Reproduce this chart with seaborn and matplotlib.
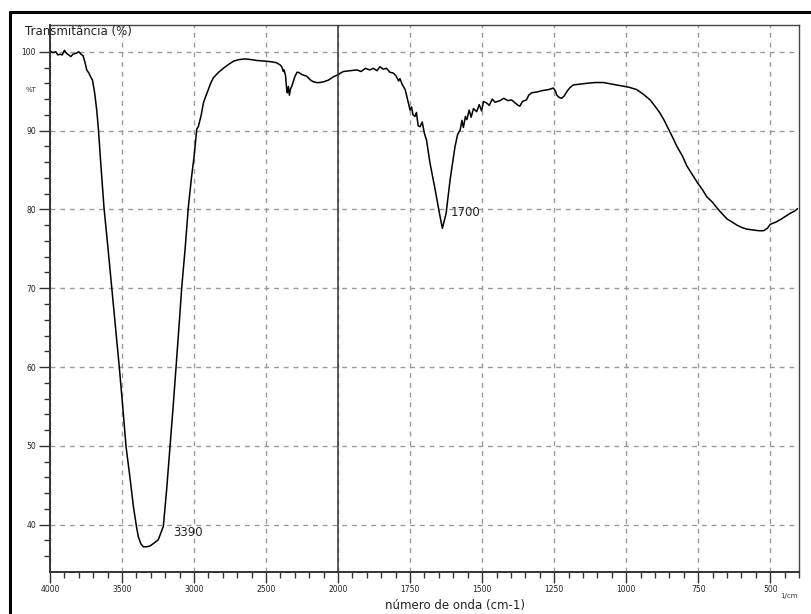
import numpy as np
import pandas as pd
import matplotlib
matplotlib.use("Agg")
import matplotlib.pyplot as plt
import seaborn as sns
from matplotlib.lines import Line2D
from matplotlib.ticker import FixedLocator, NullFormatter

# ---- data ----
wavenumber = [
    4000, 3980, 3960, 3945, 3930, 3915, 3900, 3885, 3870, 3855, 3840, 3820, 3800,
    3785, 3770, 3755, 3745, 3730, 3720, 3705, 3690, 3675, 3664, 3645, 3625, 3598,
    3572, 3545, 3519, 3495, 3472, 3445, 3421, 3400, 3387, 3370, 3352, 3330, 3306,
    3275, 3248, 3213, 3190, 3167, 3145, 3125, 3105, 3085, 3062, 3040, 3018, 2998,
    2981, 2970, 2950, 2935, 2920, 2901, 2885, 2866, 2830, 2797, 2760, 2727, 2690,
    2646, 2600, 2565, 2495, 2450, 2426, 2400, 2391, 2380, 2375, 2365, 2361, 2355,
    2352, 2345, 2338, 2330, 2322, 2310, 2299, 2285, 2276, 2250, 2218, 2190, 2172,
    2150, 2125, 2100, 2068, 2035, 2000,
    1982, 1958, 1935, 1920, 1905, 1890, 1877, 1865, 1855, 1843, 1832, 1820, 1808,
    1798, 1790, 1785, 1778, 1767, 1758, 1750, 1745, 1740, 1733, 1728, 1722, 1715,
    1708, 1700, 1693, 1681, 1663, 1646, 1638, 1625, 1611, 1594, 1585, 1576, 1570,
    1565, 1558, 1553, 1545, 1538, 1530, 1519, 1510, 1502, 1495, 1484, 1475, 1465,
    1455, 1438, 1425, 1410, 1398, 1385, 1375, 1369, 1360, 1346, 1338, 1328, 1310,
    1288, 1270, 1253, 1245, 1241, 1232, 1224, 1215, 1205, 1194, 1183, 1160, 1137,
    1110, 1079, 1050, 1035, 1021, 990, 963, 940, 917, 900, 882, 868, 853, 838, 824,
    805, 789, 770, 751, 735, 720, 700, 685, 668, 650, 632, 615, 598, 581, 560, 540,
    523, 510, 500, 480, 465, 448, 431, 415, 405,
]
transmittance = [
    100.1, 99.9, 100.0, 99.6, 99.7, 99.6, 100.2, 99.8, 99.6, 99.4, 99.7, 99.8, 100.0,
    99.7, 99.5, 98.5, 97.7, 97.3, 96.9, 96.4, 94.8, 92.5, 90.2, 85.2, 80.2, 75.2,
    70.2, 65.1, 60.0, 55.0, 49.9, 46.0, 42.3, 39.8, 38.5, 37.6, 37.2, 37.2, 37.3,
    37.7, 38.1, 39.8, 44.5, 49.9, 55.0, 60.0, 65.0, 70.2, 75.0, 80.2, 84.0, 87.0,
    90.2, 90.5, 92.0, 93.5, 94.3, 95.2, 96.0, 96.7, 97.4, 97.9, 98.4, 98.8, 99.0,
    99.1, 99.0, 98.9, 98.8, 98.7, 98.6, 98.3, 98.1, 97.5, 97.7, 97.0, 96.2, 94.9,
    94.8, 95.6, 94.5, 95.3, 95.6, 96.3, 96.9, 97.4, 97.4, 97.1, 96.9, 96.4, 96.2,
    96.1, 96.1, 96.2, 96.4, 96.8, 97.1,
    97.5, 97.6, 97.7, 97.5, 97.9, 97.7, 97.9, 97.6, 98.1, 97.8, 97.9, 97.4, 97.3,
    96.9, 96.3, 96.6, 95.9, 95.2, 93.8, 92.6, 93.0, 92.0, 91.8, 92.3, 90.6, 90.5,
    91.1, 89.6, 88.8, 85.9, 82.5, 79.1, 77.6, 79.5, 83.8, 88.0, 89.5, 90.1, 91.3,
    90.4, 91.8, 91.4, 92.6, 91.7, 92.8, 92.4, 93.3, 92.5, 93.7, 93.5, 93.2, 94.0,
    93.6, 93.8, 94.1, 93.8, 93.9, 93.5, 93.2, 93.1, 93.7, 93.9, 94.5, 94.8, 94.9,
    95.1, 95.2, 95.4, 95.0, 94.5, 94.2, 94.1, 94.4, 95.0, 95.5, 95.8, 95.9, 96.0,
    96.1, 96.1, 95.9, 95.8, 95.7, 95.5, 95.2, 94.6, 93.9, 93.1, 92.2, 91.3, 90.2,
    89.1, 88.0, 86.8, 85.5, 84.4, 83.3, 82.5, 81.6, 80.9, 80.2, 79.5, 78.8, 78.4,
    78.0, 77.7, 77.5, 77.4, 77.3, 77.3, 77.6, 78.1, 78.4, 78.7, 79.1, 79.5, 79.8,
    80.1,
]
x_major_ticks = [4000, 3500, 3000, 2500, 2000, 1750, 1500, 1250, 1000, 750, 500]
x_tick_labels = ["4000", "3500", "3000", "2500", "2000", "1750", "1500", "1250",
                 "1000", "750", "500"]
y_major_ticks = [40, 50, 60, 70, 80, 90, 100]
peak_labels = ["3390", "1700"]
peak_positions = [3146, 1608]
peak_values = [39.0, 79.6]

df = pd.DataFrame({"wn": wavenumber, "T": transmittance})

# ---- figure ----
sns.set_style("white")
plt.rcParams["font.family"] = ["DejaVu Sans"]
fig = plt.figure(figsize=(8.12, 6.14), dpi=100)
W, H = 812, 614
ax = fig.add_axes([50 / W, 1 - 572 / H, (799 - 50) / W, (572 - 25) / H])


def fwd(w):
    w = np.asarray(w, dtype=float)
    return np.where(w >= 2000, (w - 2000) / 500.0, (w - 2000) / 250.0)


def inv(v):
    v = np.asarray(v, dtype=float)
    return np.where(v >= 0, 2000 + 500.0 * v, 2000 + 250.0 * v)


ax.set_xscale("function", functions=(fwd, inv))

sns.lineplot(data=df, x="wn", y="T", sort=False, estimator=None,
             color="black", linewidth=1.1, ax=ax)

ax.set_xlim(4000, 400)
ax.set_ylim(34.0, 103.4)

# ticks
ax.xaxis.set_major_locator(FixedLocator(x_major_ticks))
ax.set_xticklabels(x_tick_labels)
minor_x = [w for w in range(3900, 2000, -100) if w % 500] + \
          [w for w in range(1950, 399, -50) if w % 250]
ax.xaxis.set_minor_locator(FixedLocator(minor_x))
ax.xaxis.set_minor_formatter(NullFormatter())
ax.yaxis.set_major_locator(FixedLocator(y_major_ticks))
ax.yaxis.set_minor_locator(FixedLocator([v for v in range(36, 100, 2) if v % 10]))
ax.yaxis.set_minor_formatter(NullFormatter())

ax.tick_params(axis="both", which="both", bottom=True, left=True, top=False,
               right=False)
ax.tick_params(axis="both", which="major", direction="out", length=8, width=1.0,
               color="#333333", labelsize=5.5, labelcolor="#222222")
ax.tick_params(axis="both", which="minor", direction="out", length=4, width=1.0,
               color="#333333")
ax.tick_params(axis="x", which="major", pad=1.5)
ax.tick_params(axis="y", which="major", pad=2)

for s in ax.spines.values():
    s.set_color("#444444")
    s.set_linewidth(1.0)
for s in ("left", "bottom"):
    ax.spines[s].set_linewidth(1.4)
    ax.spines[s].set_color("#333333")

# grid
ax.grid(True, which="major", axis="both", linestyle=(0, (3.5, 3.5)),
        color="#9a9a9a", linewidth=1.0)
ax.axvline(2000, color="#333333", linewidth=1.1, zorder=3)

ax.set_xlabel("")
ax.set_ylabel("")

# texts
fig.text(25 / W, 1 - 32 / H, "Transmitância (%)", fontsize=8.5, color="#222222",
         ha="left", va="center")
fig.text(37 / W, 1 - 90 / H, "%T", fontsize=5, color="#333333",
         ha="right", va="center")
fig.text(455 / W, 1 - 605 / H, "número de onda (cm-1)", fontsize=8.5,
         color="#222222", ha="center", va="center")
fig.text(798 / W, 1 - 596 / H, "1/cm", fontsize=5, color="#333333",
         ha="right", va="center")
for lab, xw, yv in zip(peak_labels, peak_positions, peak_values):
    ax.text(xw, yv, lab, fontsize=8.5, color="#222222", ha="left", va="center")

# outer frame
fig.add_artist(Line2D([10 / W, 10 / W], [0, 1 - 12 / H], transform=fig.transFigure,
                      color="black", linewidth=2.2))
fig.add_artist(Line2D([10 / W, 1], [1 - 12 / H, 1 - 12 / H], transform=fig.transFigure,
                      color="black", linewidth=2.2))

fig.savefig("out.png", dpi=100, facecolor="white")
